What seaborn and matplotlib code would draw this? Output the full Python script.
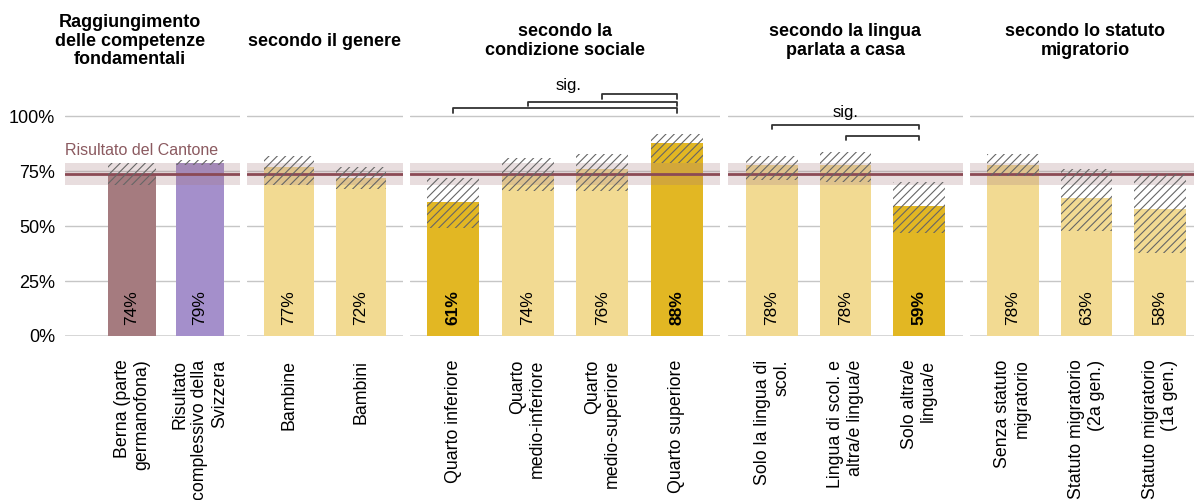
import numpy as np
import pandas as pd
import matplotlib
matplotlib.use("Agg")
import matplotlib.pyplot as plt
import seaborn as sns

# data, one block per panel
titles = [
    "Raggiungimento\ndelle competenze\nfondamentali",
    "secondo il genere",
    "secondo la\ncondizione sociale",
    "secondo la lingua\nparlata a casa",
    "secondo lo statuto\nmigratorio",
]
cats = [
    ["Berna (parte\ngermanofona)", "Risultato\ncomplessivo della\nSvizzera"],
    ["Bambine", "Bambini"],
    ["Quarto inferiore", "Quarto\nmedio-inferiore", "Quarto\nmedio-superiore", "Quarto superiore"],
    ["Solo la lingua di\nscol.", "Lingua di scol. e\naltra/e lingua/e", "Solo altra/e\nlingua/e"],
    ["Senza statuto\nmigratorio", "Statuto migratorio\n(2a gen.)", "Statuto migratorio\n(1a gen.)"],
]
values = [[74, 79], [77, 72], [61, 74, 76, 88], [78, 78, 59], [78, 63, 58]]
ci_low = [[69, 78], [69, 67], [49, 66, 66, 79], [71, 70, 47], [73, 48, 38]]
ci_high = [[79, 80], [82, 77], [72, 81, 83, 92], [82, 84, 70], [83, 76, 74]]
kinds = [
    ["berna", "svizzera"],
    ["ns", "ns"],
    ["sig", "ns", "ns", "sig"],
    ["ns", "ns", "sig"],
    ["ns", "ns", "ns"],
]
# significance brackets: (panel, left bar, right bar)
sig_pairs = [(2, 0, 3), (2, 1, 3), (2, 2, 3), (3, 0, 2), (3, 1, 2)]
canton_value = 74
canton_low, canton_high = 69, 79

palette = {"berna": "#a57b7f", "svizzera": "#a48fcb", "ns": "#f2da92", "sig": "#e2b723"}
canton_color = "#8b4a55"

sns.set_theme(style="white")
plt.rcParams["font.family"] = ["Liberation Sans", "DejaVu Sans"]
plt.rcParams["hatch.linewidth"] = 0.8
plt.rcParams["text.color"] = "black"
plt.rcParams["xtick.color"] = "black"
plt.rcParams["ytick.color"] = "black"

W, H = 1194, 500
fig = plt.figure(figsize=(W / 100, H / 100), dpi=100)

# panel layout in pixels (left, right) and x limits
panels = [(65, 240, -0.985, 1.59), (247, 403, -0.58, 1.58), (410, 720, -0.58, 3.58),
          (728, 963, -0.6, 2.6), (970, 1194, -0.58, 2.46)]
title_x = [130, 325, 565, 845, 1085]
y0_px, px_per = 336, 2.195
ytop = 115

bracket_levels = {(2, 0, 3): 103.7, (2, 1, 3): 106.7, (2, 2, 3): 110.1,
                  (3, 0, 2): 96.1, (3, 1, 2): 91.1}
sig_text_y = {2: 114.3, 3: 101.6}

axes = []
for p, (l, r, x0, x1) in enumerate(panels):
    ax = fig.add_axes([l / W, (H - y0_px) / H, (r - l) / W, ytop * px_per / H])
    axes.append(ax)
    df = pd.DataFrame({"cat": cats[p], "val": values[p], "kind": kinds[p]})
    sns.barplot(data=df, x="cat", y="val", hue="kind", order=cats[p], palette=palette,
                dodge=False, width=0.7, saturation=1, legend=False, ax=ax, zorder=2,
                linewidth=0)
    n = len(cats[p])
    lo = np.array(ci_low[p])
    hi = np.array(ci_high[p])
    ax.bar(np.arange(n), hi - lo, bottom=lo, width=0.7, facecolor="none",
           edgecolor="#666666", linewidth=0, hatch="////", zorder=6)
    ax.axhspan(canton_low, canton_high, color="#a57b7f", alpha=0.25, lw=0, zorder=4)
    ax.axhline(canton_value, color=canton_color, lw=2, zorder=5)

    for i, v in enumerate(values[p]):
        ax.text(i, 5, f"{v}%", rotation=90, ha="center", va="bottom", fontsize=12.5,
                fontweight="bold" if kinds[p][i] == "sig" else "normal", color="black", zorder=7)

    ax.set_xlim(x0, x1)
    ax.set_ylim(0, ytop)
    ax.set_yticks([0, 25, 50, 75, 100])
    ax.grid(axis="y", color="#c6c6c6", lw=1, zorder=0)
    ax.axhline(0, color="#d4d4d4", lw=2, zorder=1)
    for s in ax.spines.values():
        s.set_visible(False)
    ax.set_xlabel("")
    ax.set_ylabel("")
    ax.set_xticks(range(n))
    ax.set_xticklabels(cats[p], rotation=90, ha="center", va="top",
                       multialignment="right", fontsize=12.8)
    ax.tick_params(axis="x", length=0, pad=17)
    ax.tick_params(axis="y", length=0, pad=7, labelsize=13)
    if p == 0:
        ax.set_yticklabels([f"{t}%" for t in [0, 25, 50, 75, 100]])
    else:
        ax.set_yticklabels([])
    fig.text(title_x[p] / W, 1 - 41 / H, titles[p], ha="center", va="center",
             fontsize=13, fontweight="bold", linespacing=1.15)

axes[0].text(0, 84.5, "Risultato del Cantone", transform=axes[0].get_yaxis_transform(),
             ha="left", va="center", fontsize=11.5, color="#8b5a60")

for key in sig_pairs:
    p, a, b = key
    y = bracket_levels[key]
    axes[p].plot([a, a, b, b], [y - 1.9, y, y, y - 1.9], color="#333333", lw=1.3,
                 clip_on=False, zorder=8)
for p, y in sig_text_y.items():
    pairs = [k for k in sig_pairs if k[0] == p]
    xs = [k[1] for k in pairs] + [k[2] for k in pairs]
    axes[p].text((min(xs) + max(xs)) / 2 + (0.05 if p == 2 else 0), y, "sig.", ha="center",
                 va="center", fontsize=12, clip_on=False)

fig.savefig("out.png", dpi=100)
